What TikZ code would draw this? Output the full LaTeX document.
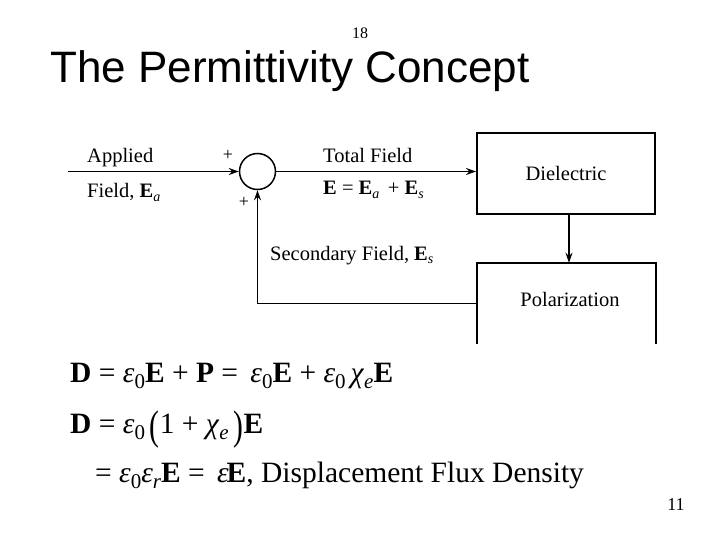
\documentclass[tikz,border=0pt]{standalone}
\usepackage{fontspec}
\setmainfont{Liberation Serif}
\newfontfamily\arialfont{Liberation Sans}
\usetikzlibrary{arrows.meta}
\newcommand{\bE}{\textbf{E}}
\newcommand{\dsub}[1]{\raisebox{-3.5pt}{\fontsize{14}{14}\selectfont\itshape #1}}
\newcommand{\esub}[1]{\raisebox{-6pt}{\fontsize{21}{21}\selectfont #1}}
\newcommand{\ee}{\textit{ε}}
\newcommand{\cchi}{\textit{χ}}
\newcommand{\bigparen}[1]{\raisebox{-6pt}{\scalebox{1}[1.4]{#1}}}
\begin{document}
\begin{tikzpicture}[x=1pt,y=-1pt,
 lbl/.style={font=\fontsize{20.5}{24}\selectfont, inner sep=0, anchor=base west},
 eq/.style={font=\fontsize{29.5}{33}\selectfont, inner sep=0, anchor=base west},
 conn/.style={line width=1.4pt, -{Stealth[length=10pt,width=7pt]}},
 boxline/.style={line width=2pt},
 plus/.style={font=\fontsize{18}{20}\selectfont, inner sep=0}]
\useasboundingbox (0,0) rectangle (720,540);
\node[inner sep=0, font=\fontsize{16}{18}\selectfont] (pg) at (360,33) {18};
\node[inner sep=0, anchor=base west, font=\arialfont\fontsize{44}{50}\selectfont] (title) at (50,83) {The Permittivity Concept};
% diagram
\node[draw, circle, line width=1.5pt, minimum size=36pt, inner sep=0] (sum) at (257.5,171.5) {};
\coordinate (src) at (68,171.5);
\node[draw, boxline, minimum width=178pt, minimum height=81pt, inner sep=0, font=\fontsize{20.5}{24}\selectfont] (diel) at (566,173.5) {Dielectric};
\node[minimum width=179pt, minimum height=81pt, inner sep=0] (pol) at (566.5,303.5) {};
\draw[boxline] (pol.south west) -- (pol.north west) -- (pol.north east) -- (pol.south east);
\node[lbl, anchor=base] (poltxt) at (570,306) {Polarization};
\draw[conn] (src) -- (sum.west);
\draw[conn] (sum.east) -- (sum.east -| diel.west);
\draw[conn] ([xshift=3pt]diel.south) -- ([xshift=2.5pt]pol.north);
\draw[conn] (pol.west) -| (sum.south);
\node[lbl] (applied) at (87,163) {Applied};
\node[lbl] (fieldEa) at (87,198) {Field, \bE\dsub{a}};
\node[lbl] (total) at (323,163) {Total Field};
\node[lbl] (sumeq) at (323,195) {\bE{} = \bE\dsub{a}\, + \bE\dsub{s}};
\node[lbl] (sec) at (270,260) {Secondary Field, \bE\dsub{s}};
\node[plus] (p1) at (228,155) {+};
\node[plus] (p2) at (244,202) {+};
% equations
\node[eq] (eq1) at (70,382) {\textbf{D} = \ee\esub{0}\textbf{E} + \textbf{P} =\, \ee\esub{0}\textbf{E} + \ee\esub{0}\,\cchi\esub{\itshape e}\textbf{E}};
\node[eq] (eq2) at (70,433) {\textbf{D} = \ee\esub{0}\,\bigparen{(}1 + \cchi\esub{\itshape e}\,\bigparen{)}\textbf{E}};
\node[eq] (eq3) at (95,482) {= \ee\esub{0}\ee\esub{\itshape r}\textbf{E} =\, \ee\kern-2pt\textbf{E}, Displacement Flux Density};
\node[inner sep=0, font=\fontsize{18}{20}\selectfont] (pnum) at (676,505) {11};
\end{tikzpicture}
\end{document}
